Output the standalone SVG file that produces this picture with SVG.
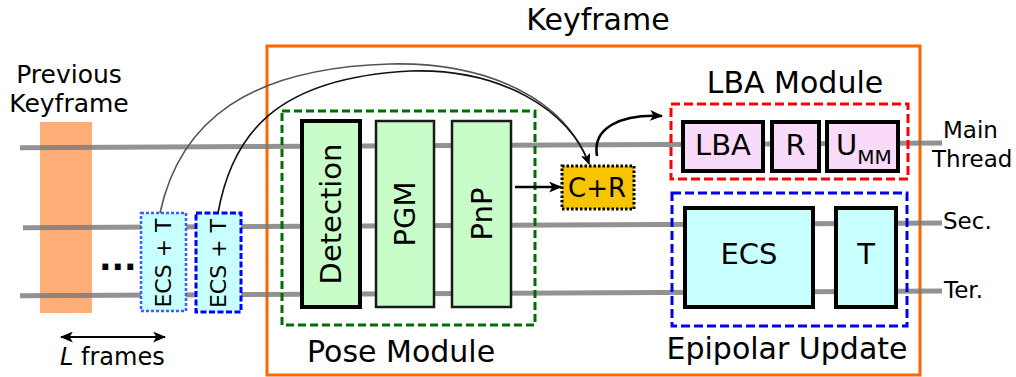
<svg xmlns="http://www.w3.org/2000/svg" width="1016" height="377" viewBox="0 0 1016 377">
<defs>
<style>
text{font-family:"DejaVu Sans","Verdana",sans-serif;fill:#000}
.thread{stroke:#777;stroke-opacity:0.8;stroke-width:5;fill:none}
.green{fill:#c8fcc8}
.pink{fill:#fadafa;stroke:#000;stroke-width:4}
.cyan{fill:#c8ffff;stroke:#000;stroke-width:4}
.lbl29{font-size:29px;text-anchor:middle}
.title{font-size:30px}
</style>
<marker id="ah" viewBox="0 0 12 10" refX="11" refY="5" markerWidth="13" markerHeight="11" markerUnits="userSpaceOnUse" orient="auto">
<path d="M0,0 L12,5 L0,10 L3,5 z" fill="#000"/>
</marker>
<marker id="ahs" viewBox="0 0 12 10" refX="11" refY="5" markerWidth="11" markerHeight="9" markerUnits="userSpaceOnUse" orient="auto">
<path d="M0,0 L12,5 L0,10 L3,5 z" fill="#000"/>
</marker>
<marker id="ahb" viewBox="0 0 12 10" refX="1" refY="5" markerWidth="13" markerHeight="11" markerUnits="userSpaceOnUse" orient="auto">
<path d="M12,0 L0,5 L12,10 L9,5 z" fill="#000"/>
</marker>
</defs>
<rect width="1016" height="377" fill="#fff"/>

<g id="previous-keyframe">
<rect x="40" y="122" width="52" height="191" fill="#ffa060" fill-opacity="0.85"/>
<text x="69" y="83" font-size="25" text-anchor="middle">Previous</text>
<text x="69" y="112" font-size="25" text-anchor="middle">Keyframe</text>
</g>

<g id="keyframe">
<rect x="267" y="46" width="653" height="329" fill="none" stroke="#ff6600" stroke-width="3"/>
<text x="598" y="30" class="title" text-anchor="middle">Keyframe</text>
</g>

<g id="threads">
<line class="thread" x1="20" y1="147.7" x2="942" y2="143"/>
<line class="thread" x1="23" y1="227.7" x2="942" y2="223"/>
<line class="thread" x1="20" y1="295.7" x2="942" y2="291"/>
<text x="943" y="138" font-size="23">Main</text>
<text x="932" y="167" font-size="23">Thread</text>
<text x="943" y="229" font-size="23">Sec.</text>
<text x="944" y="298" font-size="23">Ter.</text>
</g>

<g id="dots">
<text x="99" y="270" font-size="33" font-weight="bold">...</text>
</g>

<g id="ecs-t-1">
<rect x="141" y="213" width="45" height="98" fill="#c8ffff" stroke="#3d5cff" stroke-width="2.5" stroke-dasharray="3,2"/>
<text transform="translate(163.5,263) rotate(-90)" font-size="22" text-anchor="middle" dy="0.36em">ECS + T</text>
</g>
<g id="ecs-t-2">
<rect x="196" y="213" width="45" height="99" fill="#c8ffff" stroke="#0000ff" stroke-width="3" stroke-dasharray="6,2.5"/>
<text transform="translate(218.5,263.5) rotate(-90)" font-size="22" text-anchor="middle" dy="0.36em">ECS + T</text>
</g>

<g id="l-frames">
<line x1="61" y1="337" x2="165" y2="337" stroke="#000" stroke-width="2" marker-start="url(#ahb)" marker-end="url(#ah)"/>
<text x="60" y="365" font-size="24"><tspan font-style="italic">L</tspan> frames</text>
</g>

<g id="pose-module">
<rect x="282" y="111" width="253" height="214" fill="none" stroke="#006e00" stroke-width="3" stroke-dasharray="8,4"/>
<text x="307" y="362" class="title">Pose Module</text>
</g>
<g id="detection">
<rect x="302" y="121" width="58" height="186" class="green" stroke="#000" stroke-width="4"/>
<text transform="translate(331,214) rotate(-90)" class="lbl29" dy="0.36em">Detection</text>
</g>
<g id="pgm">
<rect x="376" y="121" width="58" height="186" class="green" stroke="#1a1a1a" stroke-width="2.5"/>
<text transform="translate(405,214) rotate(-90)" class="lbl29" dy="0.36em">PGM</text>
</g>
<g id="pnp">
<rect x="452" y="121" width="59" height="186" class="green" stroke="#1a1a1a" stroke-width="2.5"/>
<text transform="translate(481.5,214) rotate(-90)" class="lbl29" dy="0.36em">PnP</text>
</g>

<g id="c-r">
<rect x="562" y="166" width="72" height="43" fill="#f8c400" stroke="#000" stroke-width="3" stroke-dasharray="2.5,2"/>
<text x="597" y="197" font-size="26" text-anchor="middle">C+R</text>
</g>

<g id="lba-module">
<rect x="671" y="104" width="237" height="75" fill="none" stroke="#ff0000" stroke-width="3" stroke-dasharray="9,4"/>
<text x="795" y="93" class="title" text-anchor="middle">LBA Module</text>
</g>
<g id="lba">
<rect x="683" y="122" width="80" height="49" class="pink"/>
<text x="723" y="155" class="lbl29">LBA</text>
</g>
<g id="r">
<rect x="772" y="122" width="47" height="49" class="pink"/>
<text x="795.5" y="155" class="lbl29">R</text>
</g>
<g id="umm">
<rect x="827" y="122" width="71" height="49" class="pink"/>
<text x="836" y="155" font-size="29">U<tspan font-size="20" dy="9">MM</tspan></text>
</g>

<g id="epipolar-update">
<rect x="672" y="193" width="235" height="133" fill="none" stroke="#0000ee" stroke-width="3" stroke-dasharray="9,4"/>
<text x="787" y="359" class="title" text-anchor="middle">Epipolar Update</text>
</g>
<g id="ecs">
<rect x="685" y="208" width="128" height="99" class="cyan"/>
<text x="749" y="264" class="lbl29">ECS</text>
</g>
<g id="t">
<rect x="836" y="208" width="60" height="99" class="cyan"/>
<text x="866" y="264" class="lbl29">T</text>
</g>

<g id="connectors" fill="none">
<path d="M160,213 C180,120 250,68 390,64 C490,62 565,100 589,164" stroke="#555" stroke-width="1.6" marker-end="url(#ahs)"/>
<path d="M218,213 C232,135 275,78 410,71 C500,68 570,110 589,164" stroke="#111" stroke-width="1.6" marker-end="url(#ahs)"/>
<line x1="515" y1="187" x2="561" y2="187" stroke="#000" stroke-width="2.5" marker-end="url(#ah)"/>
<path d="M597,156 C592,128 620,114 662,116" stroke="#000" stroke-width="2.5" marker-end="url(#ah)"/>
</g>
</svg>
